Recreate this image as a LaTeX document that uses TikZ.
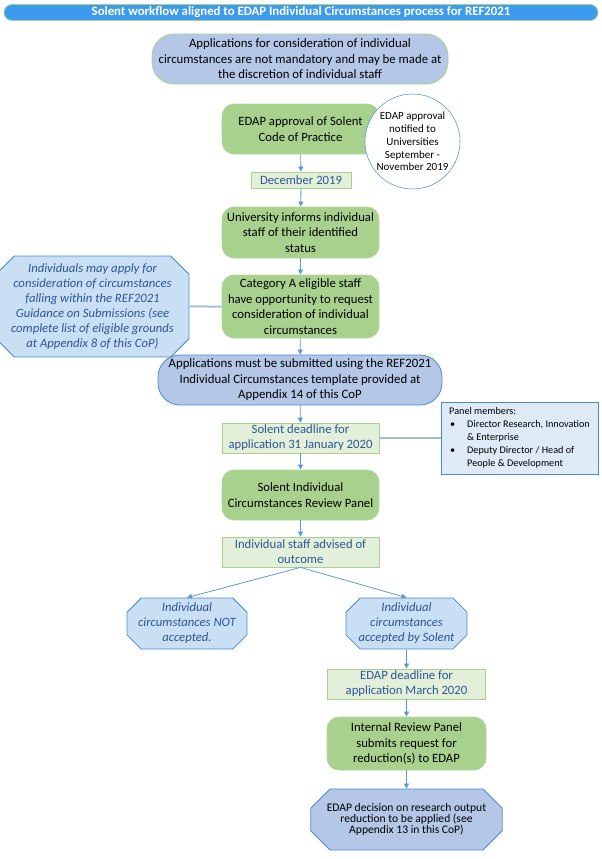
\documentclass[tikz,border=0pt]{standalone}
\usepackage{fontspec}
\setmainfont{Carlito}
\usepackage{tikz}
\usetikzlibrary{shapes.misc,arrows.meta}
\definecolor{titleblue}{HTML}{3D9BEF}
\definecolor{leaf}{HTML}{A9D18E}
\definecolor{leafrim}{HTML}{B3D799}
\definecolor{pale}{HTML}{E2F0D9}
\definecolor{steel}{HTML}{B4C7E7}
\definecolor{sky}{HTML}{C9DFF3}
\definecolor{rim}{HTML}{4A8BD0}
\definecolor{ink}{HTML}{2F5597}
\definecolor{link}{HTML}{5B9BD5}
\definecolor{tiecol}{HTML}{A7BDD6}
\definecolor{panelbg}{HTML}{DEEBF7}
\tikzset{
  bar/.style={draw=leaf, fill=titleblue, line width=0.8pt, rounded corners=8pt, text=white, font=\bfseries\fontsize{12.8}{14}\selectfont, minimum width=594pt, minimum height=16pt, inner sep=0pt},
  pill/.style={fill=steel, line width=0.8pt, rounded corners=22pt, align=center, font=\fontsize{12.8}{15.5}\selectfont, inner sep=0pt},
  stage/.style={fill=leaf, draw=leafrim, line width=0.8pt, rounded corners=12pt, align=center, minimum width=157pt, font=\fontsize{12.7}{15.5}\selectfont, inner sep=0pt},
  datebox/.style={fill=pale, draw=leaf, line width=0.8pt, align=center, text=ink, font=\fontsize{12.7}{15}\selectfont, inner sep=0pt},
  octo/.style={chamfered rectangle, chamfered rectangle xsep=12pt, fill=sky, draw=rim, line width=0.8pt, align=center, text=ink, font=\itshape\fontsize{12.7}{15}\selectfont, inner sep=0pt},
  roundnote/.style={circle, draw=link, fill=white, line width=0.6pt, align=center, font=\fontsize{11}{12.8}\selectfont, inner sep=0pt},
  panel/.style={draw=rim, fill=panelbg, line width=0.8pt, align=left, font=\fontsize{10.2}{13}\selectfont, inner sep=0pt},
  arr/.style={draw=link, line width=0.8pt, -{Triangle[length=5pt,width=5pt]}},
  tie/.style={draw=tiecol, line width=2pt}
}

\begin{document}
\begin{tikzpicture}[x=1pt, y=-1pt]
    \useasboundingbox (0,0) rectangle (602,859);

    % --- HEADER ---
    \node[bar] (title) at (301,12.5) {Solent workflow aligned to EDAP Individual Circumstances process for REF2021};
    \node[pill, draw=leaf, minimum width=296pt, minimum height=50pt] (optional) at (300,59)
        {Applications for consideration of individual\\circumstances are not mandatory and may be made at\\the discretion of individual staff};

    % --- APPROVAL ---
    \node[stage, minimum height=50pt] (approval) at (300.5,129) {EDAP approval of Solent\\Code of Practice};
    \node[roundnote, minimum size=95pt] (notified) at (412.5,141.5) {EDAP approval\\notified to\\Universities\\September -\\November 2019};
    \node[datebox, minimum width=100pt, minimum height=16pt] (dec) at (301,180) {December 2019};
    \node[stage, minimum height=51pt] (informs) at (300.5,232.5) {University informs individual\\staff of their identified\\status};
    \node[stage, minimum height=63pt] (catA) at (300.5,306.5) {Category A eligible staff\\have opportunity to request\\consideration of individual\\circumstances};
    \node[octo, minimum width=177pt, minimum height=101pt, chamfered rectangle xsep=15pt] (grounds) at (92.5,306.5)
        {Individuals may apply for\\consideration of circumstances\\falling within the REF2021\\Guidance on Submissions (see\\complete list of eligible grounds\\at Appendix 8 of this CoP)};

    % --- APPLICATION ---
    \node[pill, draw=rim, minimum width=284pt, minimum height=50pt] (submit) at (300,380)
        {Applications must be submitted using the REF2021\\Individual Circumstances template provided at\\Appendix 14 of this CoP};
    \node[datebox, minimum width=157pt, minimum height=30pt] (solentdl) at (300.5,438) {Solent deadline for\\application 31 January 2020};
    \node[panel, minimum width=157pt, minimum height=72pt] (members) at (519.5,438)
        {Panel members:\\
         \makebox[18pt][l]{\hspace*{1pt}\textbullet}Director Research, Innovation\\
         \hspace*{18pt}\& Enterprise\\
         \makebox[18pt][l]{\hspace*{1pt}\textbullet}Deputy Director / Head of\\
         \hspace*{18pt}People \& Development};
    \node[stage, minimum height=50pt] (review) at (300.5,495) {Solent Individual\\Circumstances Review Panel};
    \node[datebox, minimum width=157pt, minimum height=30pt] (advised) at (300.5,552) {Individual staff advised of\\outcome};

    % --- OUTCOME ---
    \node[octo, minimum width=120pt, minimum height=51pt, chamfered rectangle xsep=11pt] (rejected) at (187,623.5) {Individual\\circumstances NOT\\accepted.};
    \node[octo, minimum width=121pt, minimum height=51pt, chamfered rectangle xsep=11pt] (accepted) at (406.5,623.5) {Individual\\circumstances\\accepted by Solent};
    \node[datebox, minimum width=158pt, minimum height=30pt] (edapdl) at (406.5,684) {EDAP deadline for\\application March 2020};
    \node[stage, minimum width=159pt, minimum height=53pt] (internal) at (406.5,743.5) {Internal Review Panel\\submits request for\\reduction(s) to EDAP};
    \node[octo, fill=steel, text=black, font=\fontsize{11.6}{11.3}\selectfont, minimum width=158pt, minimum height=61pt, chamfered rectangle xsep=16pt] (decision) at (406.5,819.5)
        {EDAP decision on research output\\reduction to be applied (see\\Appendix 13 in this CoP)};

    % --- CONNECTORS ---
    \draw[arr] (approval) -- (dec);
    \draw[arr] (dec) -- (informs);
    \draw[arr] (informs) -- (catA);
    \draw[arr] (catA) -- (submit);
    \draw[arr] (submit) -- (solentdl);
    \draw[arr] (solentdl) -- (review);
    \draw[arr] (review) -- (advised);
    \draw[arr] (advised.south) -- (rejected.north);
    \draw[arr] (advised.south) -- (accepted.north);
    \draw[arr] (accepted) -- (edapdl);
    \draw[arr] (edapdl) -- (internal);
    \draw[arr] (internal) -- (decision);
    \draw[tie] (grounds) -- (catA);
    \draw[tie] (solentdl) -- (members);
\end{tikzpicture}
\end{document}
